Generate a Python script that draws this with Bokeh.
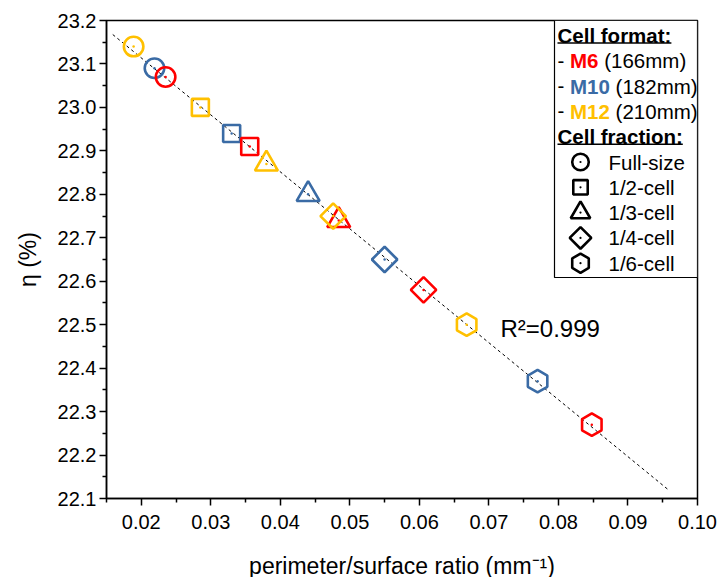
import math
import numpy as np
from bokeh.plotting import figure
from bokeh.models import (Range1d, FixedTicker, NumeralTickFormatter, Label, ColumnDataSource,
                          GlobalInlineStyleSheet)
from bokeh.embed import file_html
from bokeh.resources import INLINE

# ---------------- data ----------------
ratio = [0.0189, 0.0219, 0.0235, 0.0285, 0.0330, 0.0356, 0.0380, 0.0440,
         0.0476, 0.0484, 0.0550, 0.0606, 0.0668, 0.0770, 0.0848]
eta = [23.14, 23.09, 23.07, 23.00, 22.94, 22.91, 22.87, 22.80,
       22.75, 22.74, 22.65, 22.58, 22.50, 22.37, 22.27]
cell_format = ["M12", "M10", "M6", "M12", "M10", "M6", "M12", "M10",
               "M12", "M6", "M10", "M6", "M12", "M10", "M6"]
cell_fraction = ["Full-size", "Full-size", "Full-size", "1/2-cell", "1/2-cell", "1/2-cell",
                 "1/3-cell", "1/3-cell", "1/4-cell", "1/3-cell", "1/4-cell", "1/4-cell",
                 "1/6-cell", "1/6-cell", "1/6-cell"]
formats = ["M6", "M10", "M12"]
format_sizes = ["(166mm)", "(182mm)", "(210mm)"]
fractions = ["Full-size", "1/2-cell", "1/3-cell", "1/4-cell", "1/6-cell"]
x_ticks = [0.02, 0.03, 0.04, 0.05, 0.06, 0.07, 0.08, 0.09, 0.10]
x_minor = [0.015, 0.025, 0.035, 0.045, 0.055, 0.065, 0.075, 0.085, 0.095]
y_ticks = [22.1, 22.2, 22.3, 22.4, 22.5, 22.6, 22.7, 22.8, 22.9, 23.0, 23.1, 23.2]
y_minor = [22.15, 22.25, 22.35, 22.45, 22.55, 22.65, 22.75, 22.85, 22.95, 23.05, 23.15]
fit_x_span = [0.0159, 0.0957]
r2_text = "R²=0.999"
x_title = "perimeter/surface ratio (mm⁻¹)"
y_title = "η (%)"

# ---------------- styles ----------------
COLORS = {"M6": "#FF0000", "M10": "#3A6BA5", "M12": "#FFC000"}
MARK = {  # marker, angle, size
    "Full-size": ("circle", 0.0, 19.5),
    "1/2-cell": ("square", 0.0, 17.0),
    "1/3-cell": ("triangle", 0.0, 23.0),
    "1/4-cell": ("square", math.pi / 4, 18.0),
    "1/6-cell": ("hex", math.pi / 2, 22.5),
}
FONT = "Liberation Sans"
FW, FH = 591, 478

p = figure(frame_width=FW, frame_height=FH,
           x_range=Range1d(0.015, 0.10), y_range=Range1d(22.1, 23.2),
           output_backend="svg", toolbar_location=None,
           min_border_left=106, min_border_right=21, min_border_top=20, min_border_bottom=79)
p.stylesheets = [GlobalInlineStyleSheet(css="html, body { overflow: hidden !important; }")]
p.extra_x_ranges = {"px": Range1d(0, FW)}
p.extra_y_ranges = {"px": Range1d(0, FH)}
p.grid.visible = False
p.outline_line_color = "black"
p.outline_line_width = 1.5
p.background_fill_color = "white"
p.border_fill_color = "white"

for ax in (p.xaxis[0], p.yaxis[0]):
    ax.axis_line_width = 1.5
    ax.major_tick_line_width = 1.5
    ax.minor_tick_line_width = 1.5
    ax.major_tick_out = 7
    ax.major_tick_in = 0
    ax.minor_tick_out = 4
    ax.minor_tick_in = 0
    ax.major_label_text_font = FONT
    ax.major_label_text_font_size = "20px"
    ax.major_label_text_color = "black"
    ax.axis_label_text_font = FONT
    ax.axis_label_text_font_style = "normal"
    ax.axis_label_text_color = "black"

p.xaxis.axis_label_text_font_size = "23px"
p.yaxis.axis_label_text_font_size = "23px"
p.xaxis.ticker = FixedTicker(ticks=x_ticks, minor_ticks=x_minor)
p.yaxis.ticker = FixedTicker(ticks=y_ticks, minor_ticks=y_minor)
p.xaxis.formatter = NumeralTickFormatter(format="0.00")
p.yaxis.formatter = NumeralTickFormatter(format="0.0")
p.xaxis.axis_label = x_title
p.yaxis.axis_label = y_title
p.xaxis.major_label_standoff = 9
p.xaxis.axis_label_standoff = 21
p.yaxis.major_label_standoff = 3
p.yaxis.axis_label_standoff = 14

# regression line
slope, icpt = np.polyfit(ratio, eta, 1)
fx = np.array(fit_x_span)
p.line(fx, slope * fx + icpt, line_color="black", line_width=1, line_dash="3 3")

# data markers (drawing order M10, M6, M12)
for f in ["M10", "M6", "M12"]:
    idx = [i for i, c in enumerate(cell_format) if c == f]
    src = ColumnDataSource(dict(
        x=[ratio[i] for i in idx], y=[eta[i] for i in idx],
        marker=[MARK[cell_fraction[i]][0] for i in idx],
        angle=[MARK[cell_fraction[i]][1] for i in idx],
        size=[MARK[cell_fraction[i]][2] for i in idx]))
    p.scatter("x", "y", source=src, marker="marker", angle="angle", size="size",
              fill_color=None, line_color=COLORS[f], line_width=2.6)
    p.scatter("x", "y", source=src, marker="circle", size=2.5,
              fill_color=COLORS[f], line_color=None)

# R² label
p.add_layout(Label(x=394, y=170, x_range_name="px", y_range_name="px", text=r2_text,
                   text_font=FONT, text_font_size="24px", text_baseline="middle",
                   text_color="black"))

# ---------------- legend (frame pixel coordinates, y up) ----------------
LX0, LX1, LTOP, LBOT = 448, FW, FH, 221
p.quad(left=[LX0], right=[LX1], top=[LTOP], bottom=[LBOT], x_range_name="px", y_range_name="px",
       fill_color="white", line_color="black", line_width=1.2)

REG = {"-": 0.333, " ": 0.278, "(": 0.333, ")": 0.333, "m": 0.833}
BOLD = {"M": 0.833, "C": 0.722, "e": 0.556, "l": 0.278, " ": 0.278, "f": 0.333, "o": 0.611,
        "r": 0.389, "m": 0.889, "a": 0.556, "t": 0.333, ":": 0.333, "c": 0.556, "i": 0.278, "n": 0.611}
FS = 20.5


def wreg(s):
    return sum(REG.get(ch, 0.556) for ch in s) * FS


def wbold(s):
    return sum(BOLD.get(ch, 0.556) for ch in s) * FS


tx = 451
row_y = [FH + 20 - (35 + 25.3 * i) for i in range(10)]  # frame px from bottom


def lab(x, y, text, style="normal", color="black"):
    p.add_layout(Label(x=x, y=y, x_range_name="px", y_range_name="px", text=text,
                       text_font=FONT, text_font_size=f"{FS}px", text_font_style=style,
                       text_color=color, text_baseline="middle", text_align="left"))


def underline(x, y, w):
    p.segment(x0=[x], y0=[y], x1=[x + w], y1=[y], x_range_name="px", y_range_name="px",
              line_color="black", line_width=1.6)


lab(tx, row_y[0], "Cell format:", "bold")
underline(tx, row_y[0] - 7.5, wbold("Cell format:"))
for k, f in enumerate(formats):
    y = row_y[1 + k]
    lab(tx, y, "-")
    x2 = tx + wreg("- ")
    lab(x2, y, f, "bold", COLORS[f])
    lab(x2 + wbold(f) + wreg(" "), y, format_sizes[k])
lab(tx, row_y[4], "Cell fraction:", "bold")
underline(tx, row_y[4] - 7.5, wbold("Cell fraction:"))

for k, fr in enumerate(fractions):
    y = row_y[5 + k]
    m, a, s = MARK[fr]
    p.scatter(x=[474], y=[y], x_range_name="px", y_range_name="px", marker=m, angle=a,
              size=s * 0.85, fill_color=None, line_color="black", line_width=2.6)
    p.scatter(x=[474], y=[y], x_range_name="px", y_range_name="px", marker="circle",
              size=2.2, fill_color="black", line_color=None)
    lab(502, y, fr)

open("out.html", "w").write(file_html(p, INLINE))
